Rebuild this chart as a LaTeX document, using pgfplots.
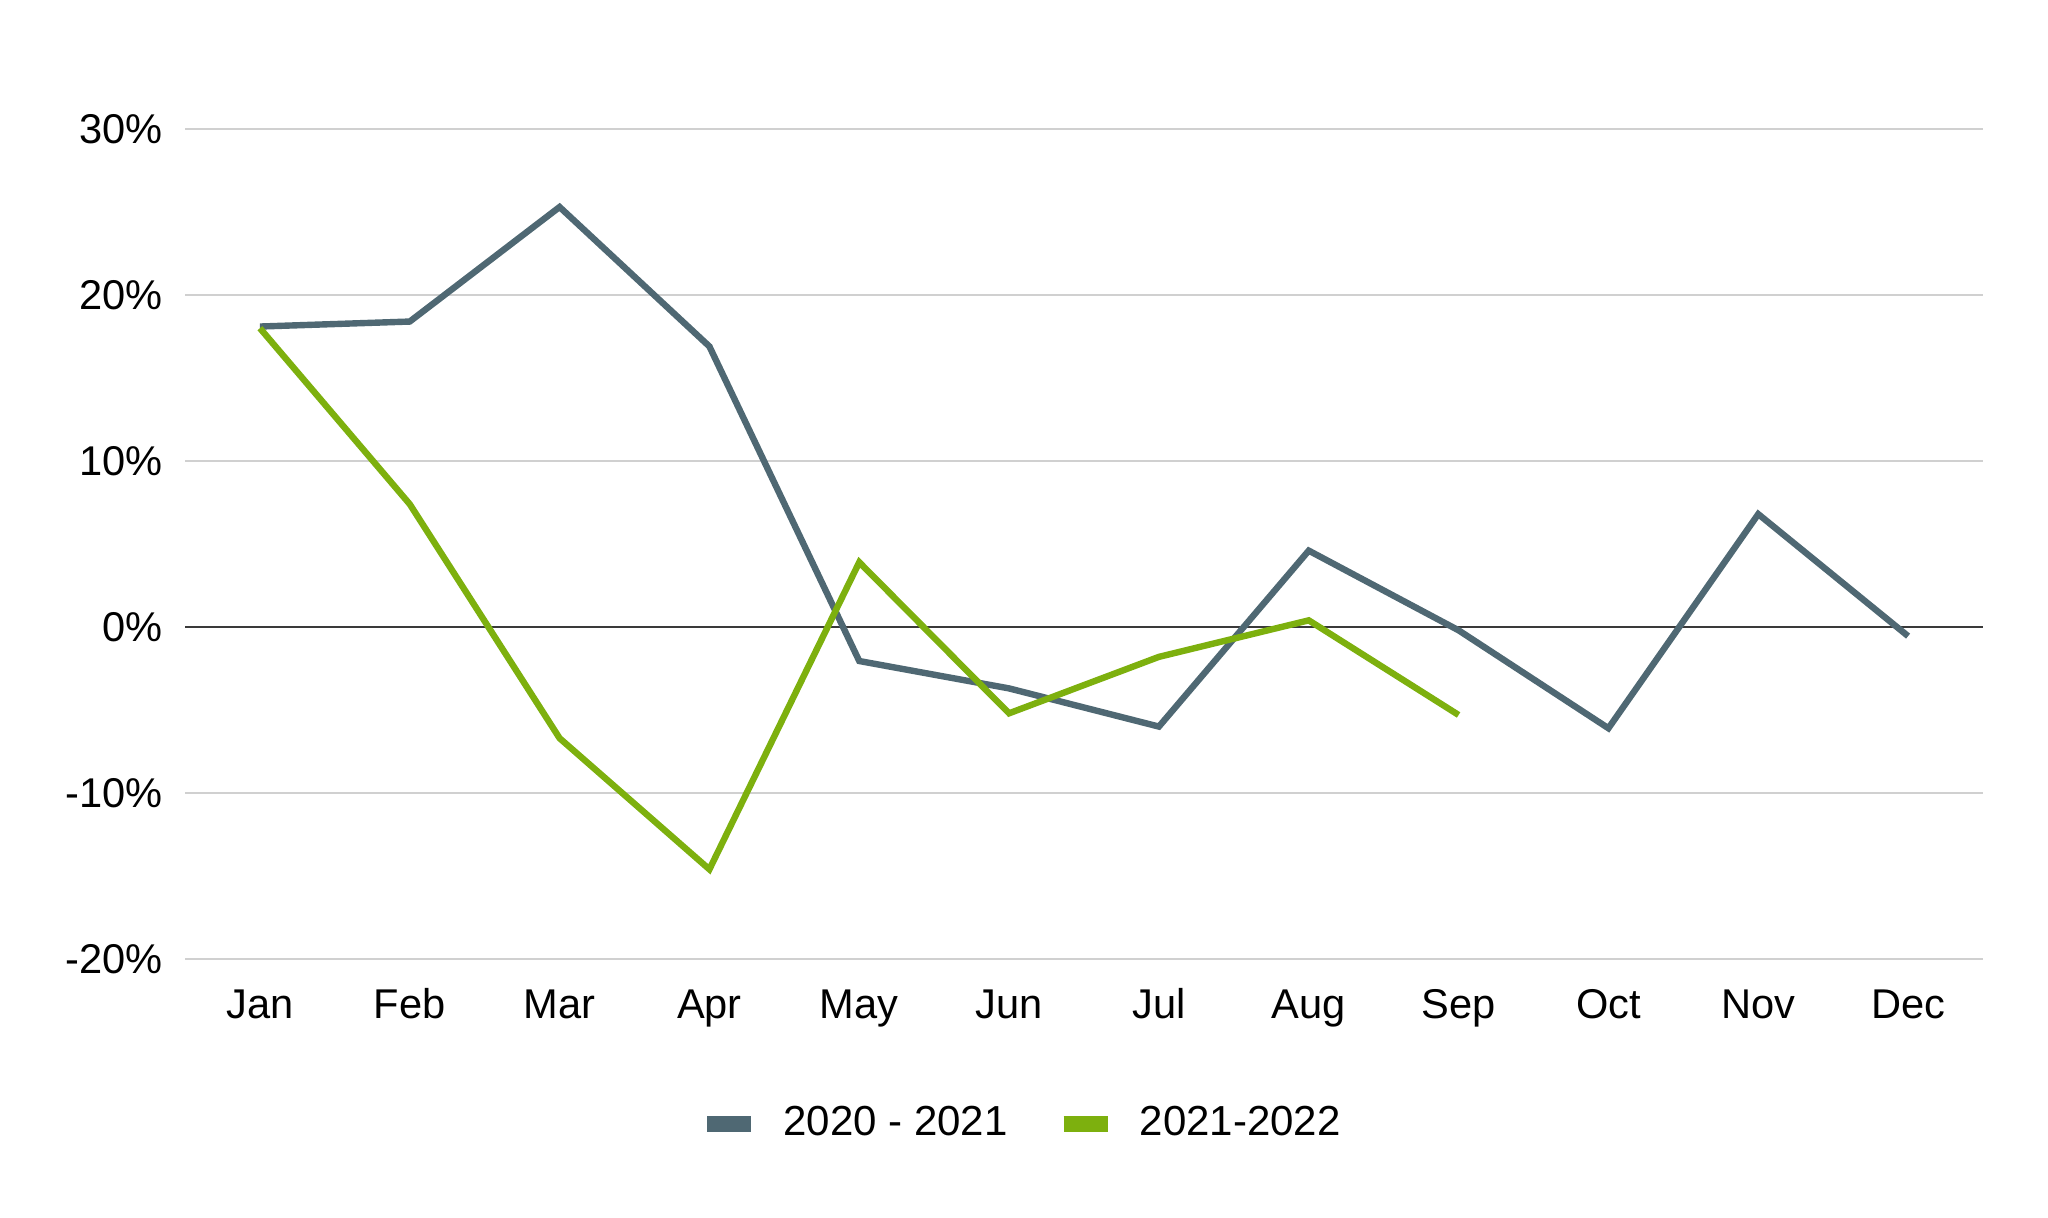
\documentclass[border=0pt]{standalone}
\usepackage{pgfplots}
\pgfplotsset{compat=1.18}
\usepackage{fontspec}
\setmainfont{Liberation Sans}
\definecolor{slate}{HTML}{4F6873}
\definecolor{lgreen}{HTML}{7DB00E}
\definecolor{gridgray}{HTML}{D0D0D0}
\definecolor{zeroline}{HTML}{3A3A3A}
\begin{document}
\begin{tikzpicture}
\useasboundingbox (0,0) rectangle (512pt,304.5pt);
\begin{axis}[
  at={(46.25pt,64.75pt)}, anchor=south west,
  scale only axis, width=449.5pt, height=207.5pt,
  xmin=-0.5, xmax=11.5, ymin=-20, ymax=30,
  xtick={0,...,11},
  xticklabels={Jan,Feb,Mar,Apr,May,Jun,Jul,Aug,Sep,Oct,Nov,Dec},
  ytick={-20,-10,0,10,20,30},
  yticklabel={\pgfmathprintnumber{\tick}\%},
  /pgf/number format/assume math mode=true,
  ticklabel style={font=\fontsize{10.4}{12}\selectfont, text=black},
  axis line style={draw=none},
  major tick length=0pt,
  ymajorgrids, grid style={gridgray, line width=0.5pt},
  extra y ticks={0}, extra y tick labels={},
  extra y tick style={grid style={zeroline, line width=0.7pt}},
  yticklabel style={xshift=-2pt},
  xticklabel style={anchor=base, yshift=-15pt},
  legend style={at={(axis description cs:0.5,0)}, anchor=center, yshift=-41.25pt, xshift=-15pt,
    draw=none, font=\fontsize{10.5}{12}\selectfont, legend columns=2,
    /tikz/every odd column/.append style={column sep=4pt},
    /tikz/every even column/.append style={column sep=10pt}},
  legend image code/.code={\draw[line width=4pt] (0pt,0pt) -- (11pt,0pt);},
]
\addplot[slate, line width=1.6pt] coordinates {
 (0,18.1) (1,18.4) (2,25.3) (3,16.9) (4,-2.05) (5,-3.7) (6,-6.0) (7,4.6) (8,-0.2) (9,-6.1) (10,6.8) (11,-0.55)};
\addlegendentry{2020 - 2021}
\addplot[lgreen, line width=1.6pt] coordinates {
 (0,18.0) (1,7.4) (2,-6.7) (3,-14.6) (4,3.9) (5,-5.2) (6,-1.8) (7,0.4) (8,-5.3)};
\addlegendentry{2021-2022}
\end{axis}
\end{tikzpicture}
\end{document}
